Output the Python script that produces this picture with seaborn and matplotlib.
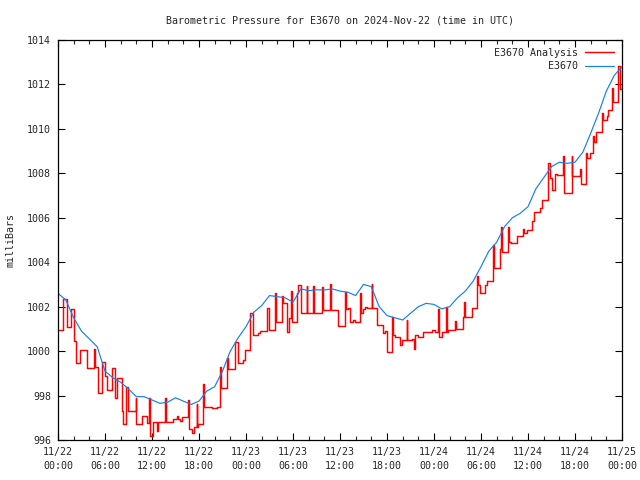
import numpy as np
import pandas as pd
import matplotlib
matplotlib.use('Agg')
import matplotlib.pyplot as plt
import seaborn as sns

# hours since 2024-11-22 00:00 UTC
obs_hours = list(range(73))
obs_mb = [1002.6, 1002.3, 1001.5, 1000.9, 1000.55, 1000.2, 999.1, 998.8, 998.6, 998.3,
          997.95, 997.95, 997.8, 997.65, 997.7, 997.9, 997.75, 997.6, 997.75, 998.2,
          998.4, 999.1, 1000.0, 1000.6, 1001.1, 1001.75, 1002.05, 1002.5, 1002.45, 1002.4,
          1002.2, 1002.8, 1002.72, 1002.76, 1002.75, 1002.8, 1002.7, 1002.65, 1002.5, 1003.0,
          1002.9, 1002.0, 1001.6, 1001.5, 1001.4, 1001.7, 1002.0, 1002.15, 1002.1, 1001.9,
          1002.0, 1002.4, 1002.7, 1003.15, 1003.8, 1004.5, 1004.9, 1005.6, 1006.0, 1006.2,
          1006.5, 1007.3, 1007.8, 1008.3, 1008.5, 1008.45, 1008.5, 1008.95, 1009.8, 1010.7,
          1011.7, 1012.4, 1012.8]

# analysis: step changes (hour, mb)
ana_hours = [0.0, 0.68, 1.11, 1.62, 2.04, 2.25, 2.81, 3.66, 4.64, 4.76,
             5.15, 5.57, 6.0, 6.21, 6.85, 7.28, 7.49, 8.13, 8.34, 8.64,
             8.89, 9.9, 10.0, 10.68, 11.32, 11.62, 11.7, 12.17, 12.6, 12.81,
             13.66, 13.75, 14.72, 15.2, 15.3, 15.57, 15.79, 16.64, 16.72, 17.07,
             17.4, 17.7, 17.8, 17.92, 18.55, 18.7, 19.62, 19.83, 20.25, 20.68,
             20.81, 21.53, 21.74, 22.6, 22.94, 23.66, 23.87, 24.51, 24.94, 25.57,
             25.79, 26.64, 26.94, 27.7, 27.83, 28.64, 28.77, 29.19, 29.49, 29.7,
             29.83, 30.47, 30.68, 31.02, 31.75, 31.85, 32.6, 32.72, 33.66, 33.79,
             34.72, 34.85, 35.79, 36.64, 36.72, 37.07, 37.28, 37.62, 37.92, 38.55,
             38.62, 38.89, 39.19, 39.4, 40.04, 40.12, 40.68, 41.53, 41.74, 41.96,
             42.6, 42.81, 43.02, 43.66, 43.87, 44.51, 44.6, 45.15, 45.45, 45.57,
             46.0, 46.64, 47.7, 48.13, 48.55, 48.65, 48.98, 49.53, 49.62, 49.83,
             50.68, 50.81, 51.66, 51.83, 51.92, 52.81, 53.45, 53.66, 53.87, 54.51,
             54.72, 55.58, 55.65, 56.43, 56.51, 56.64, 57.49, 57.62, 57.79, 58.55,
             59.4, 59.48, 59.83, 60.47, 60.77, 61.53, 61.75, 62.6, 62.81, 63.02,
             63.45, 63.66, 64.51, 64.6, 65.57, 65.65, 66.64, 66.72, 67.45, 67.55,
             67.92, 68.34, 68.47, 68.68, 69.41, 69.53, 70.05, 70.26, 70.68, 70.81,
             71.53, 71.75, 72.0]
ana_mb = [1000.95, 1002.33, 1001.1, 1001.9, 1000.45, 999.45, 1000.05, 999.25, 1000.1, 999.3,
          998.1, 999.5, 998.9, 998.25, 999.25, 997.9, 998.8, 997.3, 996.7, 998.4,
          997.3, 997.9, 996.7, 997.1, 996.75, 997.9, 996.2, 996.8, 996.4, 996.8,
          997.9, 996.8, 996.93, 997.1, 996.93, 996.85, 997.05, 997.8, 996.5, 996.3,
          996.6, 997.6, 996.6, 996.72, 998.5, 997.5, 997.45, 997.42, 997.5, 999.3,
          998.33, 999.68, 999.18, 1000.42, 999.48, 999.6, 1000.05, 1001.7, 1000.72, 1000.83,
          1000.9, 1001.93, 1000.95, 1002.6, 1001.3, 1002.5, 1002.15, 1000.85, 1001.5, 1002.7,
          1001.32, 1002.6, 1002.97, 1001.73, 1002.95, 1001.7, 1002.95, 1001.73, 1002.9, 1001.85,
          1003.0, 1001.85, 1001.13, 1002.67, 1001.88, 1001.95, 1001.32, 1001.4, 1001.32, 1002.6,
          1001.7, 1001.88, 1002.0, 1001.95, 1003.0, 1001.95, 1001.18, 1000.8, 1000.9, 999.97,
          1001.55, 1000.72, 1000.65, 1000.28, 1000.5, 1001.4, 1000.5, 1000.55, 1000.08, 1000.72,
          1000.65, 1000.88, 1000.95, 1000.88, 1001.9, 1000.65, 1000.88, 1002.0, 1000.88, 1000.95,
          1001.35, 1000.98, 1001.55, 1002.2, 1001.55, 1001.95, 1003.4, 1002.97, 1002.6, 1002.97,
          1003.15, 1004.78, 1003.73, 1004.6, 1005.6, 1004.47, 1005.6, 1004.9, 1004.85, 1005.18,
          1005.5, 1005.3, 1005.45, 1005.86, 1006.25, 1006.42, 1006.8, 1008.45, 1007.77, 1007.25,
          1007.95, 1007.92, 1008.8, 1007.1, 1008.8, 1007.88, 1008.2, 1007.5, 1008.9, 1008.68,
          1008.9, 1009.7, 1009.43, 1009.88, 1010.7, 1010.4, 1010.6, 1010.85, 1011.85, 1011.22,
          1012.83, 1011.8, 1011.8]

xtick_hours = list(range(0, 73, 6))
xtick_labels = ['11/22\n00:00', '11/22\n06:00', '11/22\n12:00', '11/22\n18:00',
                '11/23\n00:00', '11/23\n06:00', '11/23\n12:00', '11/23\n18:00',
                '11/24\n00:00', '11/24\n06:00', '11/24\n12:00', '11/24\n18:00',
                '11/25\n00:00']
ytick_vals = list(range(996, 1015, 2))

obs = pd.DataFrame({'hour': obs_hours, 'mb': obs_mb})
ana = pd.DataFrame({'hour': ana_hours, 'mb': ana_mb})

sns.set_style('white')
plt.rcParams['font.family'] = ['DejaVu Sans Mono']
plt.rcParams['font.size'] = 7.2

fig = plt.figure(figsize=(6.4, 4.8), dpi=100)
ax = fig.add_axes([58 / 640, 40 / 480, 564 / 640, 400 / 480])

sns.lineplot(data=ana, x='hour', y='mb', ax=ax, color='#ff0000', linewidth=1.05,
             drawstyle='steps-post', label='E3670 Analysis')
sns.lineplot(data=obs, x='hour', y='mb', ax=ax, color='#1480f0', linewidth=0.85,
             label='E3670')

ax.set_xlim(0, 72)
ax.set_ylim(996, 1014)
ax.set_xticks(xtick_hours)
ax.set_xticklabels(xtick_labels, linespacing=1.45)
ax.set_xticks(list(range(0, 73, 2)), minor=True)
ax.set_yticks(ytick_vals)
ax.tick_params(which='major', direction='in', length=5, width=0.8, color='black',
               top=True, right=True, bottom=True, left=True, pad=5, labelsize=7.2)
ax.tick_params(which='minor', axis='x', direction='in', length=3, width=0.8,
               top=True, bottom=True)
for s in ax.spines.values():
    s.set_color('black')
    s.set_linewidth(0.9)

ax.set_xlabel('')
ax.set_ylabel('milliBars', labelpad=8, fontsize=7.2)
ax.set_title('Barometric Pressure for E3670 on 2024-Nov-22 (time in UTC)', pad=12,
             fontsize=7.2)

ax.legend(loc='upper right', frameon=False, markerfirst=False, handlelength=2.9,
          handletextpad=0.7, borderaxespad=0.4, labelspacing=0.35, fontsize=7.2)

fig.savefig('out.png', dpi=100)
